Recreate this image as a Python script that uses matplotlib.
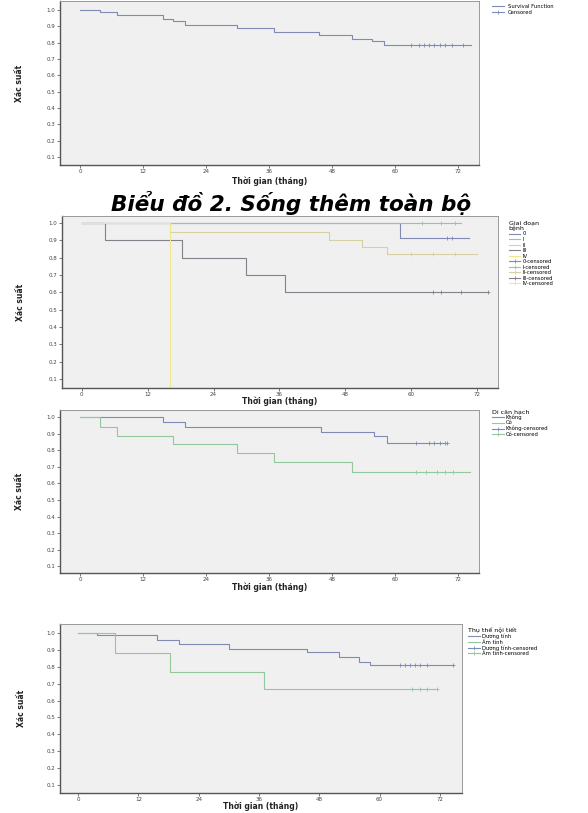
import matplotlib
matplotlib.use("Agg")
import matplotlib.pyplot as plt
import numpy as np
from matplotlib.lines import Line2D

# --- panel 1: overall survival (single curve) ---
P1_T = [0, 3.8, 7, 15.8, 17.7, 20, 30, 37, 45.5, 51.8, 55.6, 58]
P1_S = [1.0, 0.99, 0.97, 0.945, 0.93, 0.91, 0.89, 0.865, 0.85, 0.82, 0.81, 0.785]
P1_END = 74.4
P1_CENS = [63, 64.5, 65.5, 66.5, 67.5, 68.5, 69.5, 70.8, 73]

# --- panel 2: by stage ---
STAGE_LABELS = ["0", "I", "II", "III", "IV"]
STAGE_T = [[0, 58], [0], [0, 16, 45, 51, 55.5], [0, 4.2, 18.2, 30, 37], [0, 16]]
STAGE_S = [[1.0, 0.91], [1.0], [1.0, 0.95, 0.9, 0.86, 0.82], [1.0, 0.9, 0.8, 0.7, 0.6], [1.0, 0.0]]
STAGE_END = [70.5, 69, 72, 74, 16]
STAGE_CENS = [[66.5, 67.5], [62, 65.5, 68], [60, 64, 68], [64, 65.5, 69, 74], []]

# --- panel 3: lymph node metastasis ---
NODE_LABELS = ["Không", "Có"]
NODE_T = [[0, 15.8, 20, 46, 56, 58.5], [0, 3.8, 7, 17.7, 30, 37, 51.8]]
NODE_S = [[1.0, 0.97, 0.94, 0.91, 0.89, 0.845], [1.0, 0.94, 0.89, 0.84, 0.785, 0.73, 0.67]]
NODE_END = [70, 74.3]
NODE_CENS = [[64, 66.5, 67.5, 68.5, 69.5, 70], [64, 66, 68, 69.5, 71]]

# --- panel 4: hormone receptor ---
HR_LABELS = ["Dương tính", "Âm tính"]
HR_T = [[0, 3.8, 15.7, 20, 30, 45.5, 52, 56, 58], [0, 7.4, 18.3, 37]]
HR_S = [[1.0, 0.99, 0.96, 0.935, 0.905, 0.89, 0.86, 0.83, 0.81], [1.0, 0.88, 0.77, 0.67]]
HR_END = [74.6, 71.4]
HR_CENS = [[64, 65, 66, 67, 68, 69.5, 74.6], [66.5, 68, 69.5, 71.4]]

X_TICKS = [0, 12, 24, 36, 48, 60, 72]
Y_TICKS = [1.0, 0.9, 0.8, 0.7, 0.6, 0.5, 0.4, 0.3, 0.2, 0.1]

COLORS = ["#7f8bb5", "#92c89c", "#d6d0a2", "#858089", "#efe88f"]
BG = "#f0f0f0"
XLABEL = "Thời gian (tháng)"
YLABEL = "Xác suất"


def km(ax, t, s, end, cens, color):
    x = list(t) + [end]
    y = list(s) + [s[-1]]
    ax.step(x, y, where="post", color=color, lw=0.8)
    if cens:
        cy = [s[np.searchsorted(t, c, side="right") - 1] for c in cens]
        ax.plot(cens, cy, "+", color=color, ms=3.2, mew=0.6, ls="none")


def style(ax, xlim, ylim, xlab_y):
    ax.set_facecolor(BG)
    ax.set_xlim(*xlim)
    ax.set_ylim(*ylim)
    ax.set_xticks(X_TICKS, [str(v) for v in X_TICKS])
    ax.set_yticks(Y_TICKS, [f"{v:.1f}" for v in Y_TICKS])
    ax.tick_params(labelsize=4, length=2, width=0.5, pad=1.2, colors="#444")
    for side, sp in ax.spines.items():
        sp.set_color("#555" if side in ("left", "bottom") else "#999")
        sp.set_linewidth(1.0 if side in ("left", "bottom") else 0.7)
    ax.set_xlabel(XLABEL, fontsize=5.5, fontweight="bold", color="#222")
    ax.xaxis.set_label_coords(0.5, xlab_y)
    ax.set_ylabel(YLABEL, fontsize=5.5, fontweight="bold", color="#222")
    ax.yaxis.set_label_coords(-0.085, 0.5)


def legend(ax, labels, colors, title, x, y):
    handles = [Line2D([], [], color=c, lw=0.8) for c in colors]
    handles += [Line2D([], [], color=c, lw=0.8, marker="+", ms=3, mew=0.6) for c in colors]
    names = list(labels) + [f"{lab}-censored" for lab in labels]
    leg = ax.legend(handles, names, loc="upper left", bbox_to_anchor=(x, y),
                    fontsize=3.8, title=title, title_fontsize=4.5, frameon=False,
                    handlelength=2.2, labelspacing=0.1, borderaxespad=0, handletextpad=0.4)
    leg._legend_box.align = "left"


fig = plt.figure(figsize=(5.88, 8.13), dpi=100)

# panel 1
ax1 = fig.add_axes([0.1020, 0.7970, 0.7126, 0.2017])
km(ax1, P1_T, P1_S, P1_END, P1_CENS, COLORS[0])
style(ax1, (-3.8, 76), (0.051, 1.055), -0.067)
h1 = [Line2D([], [], color=COLORS[0], lw=0.8),
      Line2D([], [], color=COLORS[0], lw=0.8, marker="+", ms=3, mew=0.6)]
ax1.legend(h1, ["Survival Function", "Censored"], loc="upper left", bbox_to_anchor=(1.026, 0.995),
           fontsize=3.8, frameon=False, handlelength=2.2, labelspacing=0.1, borderaxespad=0)

fig.text(0.495, 0.750, "Biểu đồ 2. Sống thêm toàn bộ", fontsize=15.5, fontweight="bold",
         fontstyle="italic", ha="center", va="center")

# panel 2
ax2 = fig.add_axes([0.1054, 0.5228, 0.7415, 0.2116])
for t, s, e, c, col in zip(STAGE_T, STAGE_S, STAGE_END, STAGE_CENS, COLORS):
    km(ax2, t, s, e, c, col)
style(ax2, (-3.6, 75.8), (0.048, 1.040), -0.052)
legend(ax2, STAGE_LABELS, COLORS, "Giai đoạn\nbệnh", 1.02, 0.99)

# panel 3
ax3 = fig.add_axes([0.1020, 0.2952, 0.7126, 0.2005])
for t, s, e, c, col in zip(NODE_T, NODE_S, NODE_END, NODE_CENS, COLORS):
    km(ax3, t, s, e, c, col)
style(ax3, (-3.8, 76), (0.058, 1.045), -0.061)
legend(ax3, NODE_LABELS, COLORS[:2], "Di căn hạch", 1.026, 1.02)

# panel 4
ax4 = fig.add_axes([0.1020, 0.0246, 0.6837, 0.2079])
for t, s, e, c, col in zip(HR_T, HR_S, HR_END, HR_CENS, COLORS):
    km(ax4, t, s, e, c, col)
style(ax4, (-3.6, 76.4), (0.053, 1.053), -0.053)
legend(ax4, HR_LABELS, COLORS[:2], "Thụ thể nội tiết", 1.01, 0.99)

fig.savefig("out.png", dpi=100)
